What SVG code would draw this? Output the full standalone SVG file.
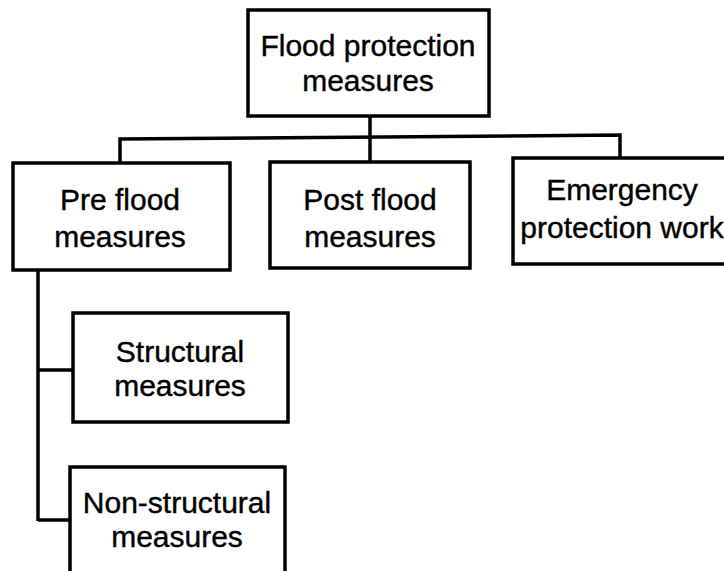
<svg xmlns="http://www.w3.org/2000/svg" width="724" height="571" viewBox="0 0 724 571">
<style>
.box{fill:#fff;stroke:#000;stroke-width:3.5}
.c{fill:none;stroke:#000;stroke-width:3.5}
text{font-family:"Liberation Sans",Arial,sans-serif;font-size:30px;fill:#000;stroke:#000;stroke-width:0.4;text-anchor:middle}
</style>
<rect width="724" height="571" fill="#fff"/>
<g id="connectors">
<line class="c" x1="370" y1="117" x2="370" y2="163"/>
<polyline class="c" points="120,163 120,139 620,135 620,158"/>
<polyline class="c" points="38,270 38,521"/>
<line class="c" x1="38" y1="370" x2="73" y2="370"/>
<line class="c" x1="38" y1="520" x2="70" y2="520"/>
</g>
<g id="root"><rect class="box" x="248" y="10" width="241" height="106"/>
<text x="368" y="56">Flood protection</text><text x="368" y="91">measures</text></g>
<g id="pre"><rect class="box" x="13" y="163" width="217" height="107"/>
<text x="120" y="210">Pre flood</text><text x="120" y="247">measures</text></g>
<g id="post"><rect class="box" x="270" y="162" width="200" height="106"/>
<text x="370" y="210">Post flood</text><text x="370" y="247">measures</text></g>
<g id="emergency"><rect class="box" x="513" y="158" width="230" height="106"/>
<text x="622" y="200">Emergency</text><text x="622" y="238">protection work</text></g>
<g id="structural"><rect class="box" x="73" y="313" width="215" height="109"/>
<text x="180" y="362">Structural</text><text x="180" y="396">measures</text></g>
<g id="nonstructural"><rect class="box" x="70" y="467" width="215" height="120"/>
<text x="177" y="513">Non-structural</text><text x="177" y="547">measures</text></g>
</svg>
